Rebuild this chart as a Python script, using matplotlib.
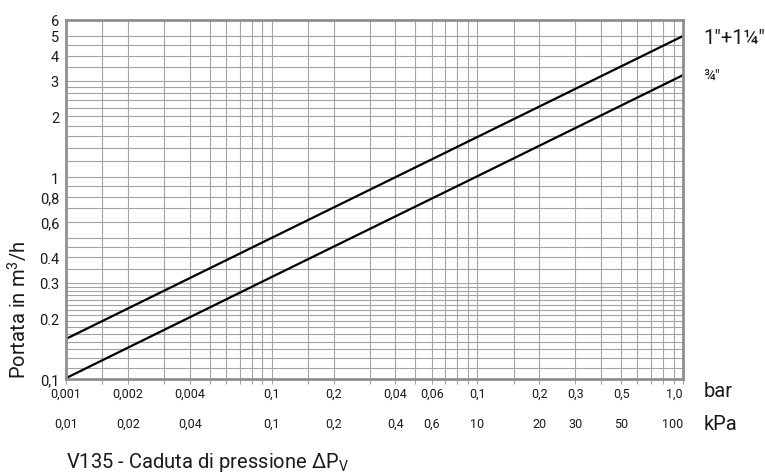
import matplotlib
matplotlib.use("Agg")
import matplotlib.pyplot as plt
import matplotlib.transforms as mtransforms

plt.rcParams["font.family"] = ["Roboto", "DejaVu Sans"]
plt.rcParams["mathtext.fontset"] = "custom"
plt.rcParams["mathtext.rm"] = "Roboto"
plt.rcParams["mathtext.it"] = "Roboto"

# Data (pressure drop in bar -> flow in m3/h)
dp_bar = [0.001, 0.01, 0.1, 1.0]
flow_large = [0.158, 0.5, 1.58, 5.0]   # 1"+1 1/4"
flow_small = [0.101, 0.32, 1.01, 3.2]  # 3/4"

series_names = ["1\u2033+1\u00bc\u2033", "\u00be\u2033"]

# Tick labels as printed on the chart
bar_ticks = [0.001, 0.002, 0.004, 0.01, 0.02, 0.04, 0.06, 0.1, 0.2, 0.3, 0.5, 1.0]
bar_labels = ["0,001", "0,002", "0,004", "0,1", "0,2", "0,04", "0,06", "0,1", "0,2", "0,3", "0,5", "1,0"]
kpa_labels = ["0,01", "0,02", "0,04", "0,1", "0,2", "0,4", "0,6", "10", "20", "30", "50", "100"]

y_ticks = [0.1, 0.2, 0.3, 0.4, 0.6, 0.8, 1, 2, 3, 4, 5, 6]
y_labels = ["0,1", "0.2", "0.3", "0.4", "0,6", "0,8", "1", "2", "3", "4", "5", "6"]

# grid layout of the printed chart paper
x_grid_steps = [1, 1.5, 2, 3, 4, 5, 6, 7, 8, 9]
y_grid = [0.113, 0.127, 0.14, 0.153, 0.167, 0.18, 0.193, 0.207, 0.22, 0.233,
          0.247, 0.26, 0.273, 0.287, 0.3, 0.35, 0.4, 0.45, 0.5, 0.6, 0.7, 0.8,
          0.9, 1.0, 1.2, 1.4, 1.6, 1.8, 2.0, 2.2, 2.4, 2.6, 2.8, 3.0, 3.5, 4.0,
          4.5, 5.0]

TEXT = "#1a1a1a"
GRID = "#a3a3a3"
FRAME = "#8f8f8f"


def main():
    fig = plt.figure(figsize=(7.65, 4.77), dpi=100)
    ax = fig.add_axes([66 / 765, 1 - 380 / 477, (683 - 66) / 765, (380 - 21) / 477])

    ax.set_xscale("log")
    ax.set_yscale("log")
    ax.set_xlim(0.001, 1.0)
    ax.set_ylim(0.1, 6)

    x_grid = [s * 10.0**d for d in (-3, -2, -1) for s in x_grid_steps]
    for x in x_grid[1:]:
        ax.axvline(x, color=GRID, lw=0.8, zorder=1)
    for y in y_grid:
        ax.axhline(y, color=GRID, lw=0.8, zorder=1)

    ax.plot(dp_bar, flow_large, color="black", lw=1.6, zorder=3, solid_capstyle="butt")
    ax.plot(dp_bar, flow_small, color="black", lw=1.6, zorder=3, solid_capstyle="butt")

    for sp in ax.spines.values():
        sp.set_color(FRAME)
        sp.set_linewidth(2.0)
        sp.set_zorder(4)

    # x ticks: marks at every grid line, labels in bar
    ax.set_xticks(x_grid, minor=True)
    ax.set_xticklabels([], minor=True)
    ax.tick_params(axis="x", which="minor", length=3.5, width=0.8, color=GRID, direction="out")
    ax.set_xticks(bar_ticks)
    ax.set_xticklabels(bar_labels, fontsize=9, color=TEXT)
    ax.tick_params(axis="x", which="major", length=3.5, width=0.8, color=GRID, pad=2)
    ax.get_xticklabels()[-1].set_horizontalalignment("right")

    ax.set_yticks(y_ticks)
    ax.set_yticklabels(y_labels, fontsize=10.5, color=TEXT)
    ax.set_yticks([], minor=True)
    ax.tick_params(axis="y", which="major", length=0, pad=5)

    # second row of x labels in kPa
    trans = mtransforms.blended_transform_factory(ax.transData, ax.transAxes)
    for x, lab in zip(bar_ticks, kpa_labels):
        ha = "right" if x == 1.0 else "center"
        ax.text(x, -0.123, lab, transform=trans, ha=ha, va="center", fontsize=9, color=TEXT)

    ax.text(1.033, -0.033, "bar", transform=ax.transAxes, ha="left", va="center", fontsize=14.5, color=TEXT)
    ax.text(1.033, -0.123, "kPa", transform=ax.transAxes, ha="left", va="center", fontsize=14.5, color=TEXT)

    ax.text(1.033, 0.952, series_names[0], transform=ax.transAxes, ha="left", va="center",
            fontsize=14.5, color=TEXT)
    ax.text(1.033, 0.846, series_names[1], transform=ax.transAxes, ha="left", va="center",
            fontsize=11, color=TEXT)

    fig.text(18 / 765, 1 - 310 / 477, "Portata in m$^3$/h", rotation=90, ha="center", va="center",
             fontsize=14.5, color=TEXT)
    fig.text(66 / 765, 1 - 463 / 477, "V135 - Caduta di pressione \u0394P$_\\mathregular{V}$",
             ha="left", va="center", fontsize=14.5, color=TEXT)

    fig.savefig("out.png", dpi=100)


if __name__ == "__main__":
    main()
